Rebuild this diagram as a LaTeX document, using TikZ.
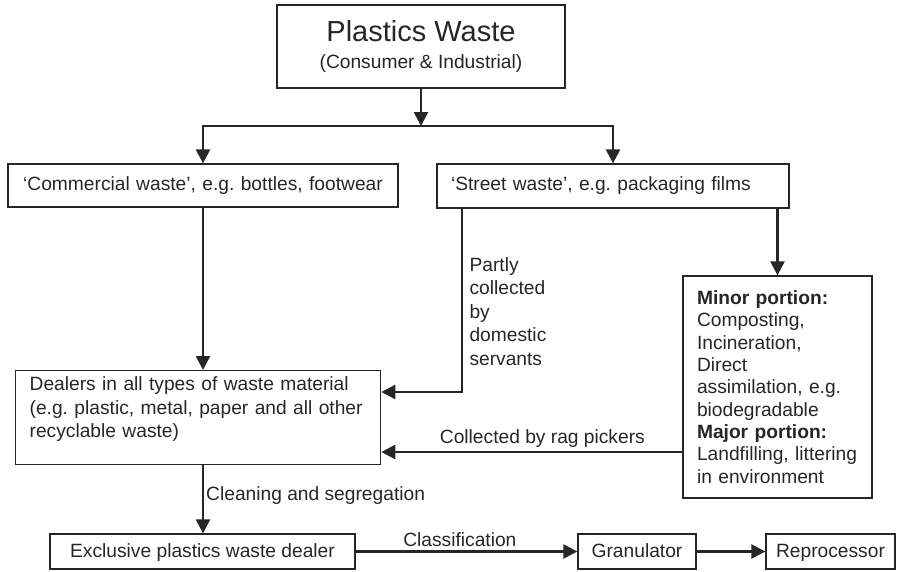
\documentclass[tikz,border=0pt]{standalone}
\usepackage{fontspec}
\setmainfont{Liberation Sans}
\usetikzlibrary{
  arrows.meta,
  positioning,
  calc
}

\begin{document}
\frenchspacing
\begin{tikzpicture}[
    x=1pt, y=-1pt,
    box/.style={draw=black!85, line width=1.3pt, inner xsep=14pt, inner ysep=0pt,
                font=\fontsize{19.2}{23.5}\selectfont, text=black!85},
    row/.style={box, inner xsep=8pt, minimum height=35pt, text height=14pt, text depth=3pt},
    lbl/.style={font=\fontsize{19.2}{23.5}\selectfont, text=black!85, align=left},
    ar/.style={-{Triangle[length=14pt,width=14pt]}, line width=2.4pt, draw=black!85}
  ]
    \useasboundingbox (0,0) rectangle (900,571);
    % sources
    \node[box, minimum width=288pt, minimum height=83pt, align=center] (src) at (421,46.5)
      {{\fontsize{29}{34}\selectfont Plastics Waste}\\[3pt] (Consumer \& Industrial)};
    \node[box, inner xsep=10pt, text width=370pt, align=center, minimum height=43pt] (com) at (203,185.5)
      {‘Commercial waste’, e.g. bottles, footwear};
    \node[box, text width=324pt, align=left, minimum height=44pt] (str) at (613,186)
      {‘Street waste’, e.g. packaging films};
    % dealers and disposal
    \node[box, anchor=north west, text width=337pt, align=left, inner ysep=6pt,
          text depth=68pt] (dlr) at (15,370)
      {Dealers in all types of waste material\\ (e.g. plastic, metal, paper and all other\\ recyclable waste)};
    \node[box, text width=161pt, align=left, minimum height=222pt,
          font=\fontsize{19.2}{22.3}\selectfont] (mnr) at (777.5,387)
      {\textbf{Minor portion:}\\ Composting,\\ Incineration,\\ Direct\\ assimilation, e.g.\\
       biodegradable\\ \textbf{Major portion:}\\ Landfilling, littering\\ in environment};
    % bottom row
    \node[row, minimum width=305pt] (exc) at (202.5,551.5) {Exclusive plastics waste dealer};
    \node[row, minimum width=118pt] (gra) at (637,551.5) {Granulator};
    \node[row, minimum width=129pt] (rep) at (830.5,551.5) {Reprocessor};
    \node[lbl, anchor=north west] (pcl) at (466,254)
      {Partly\\collected\\by\\domestic\\servants};

    \coordinate (split) at (421,126);
    \coordinate (pc) at (462,392);
    \coordinate (rp) at (683,452);
    \draw[ar] (src.south) -- (split);
    \draw[ar] (split) -| (com.north);
    \draw[ar] (split) -| (str.north);
    \draw[ar] (com.south) -- (com.south |- dlr.north);
    \draw[ar] (str.south -| pc) |- (dlr.east |- pc);
    \draw[ar] (str.south -| mnr.north) -- (mnr.north);
    \draw[ar] (mnr.west |- rp) -- node[lbl, above, pos=0.465] {Collected by rag pickers} (dlr.east |- rp);
    \draw[ar] (dlr.south -| com.south) -- node[lbl, right, pos=0.44, inner sep=2pt]
      {Cleaning and segregation} (exc.north -| com.south);
    \draw[ar] (exc) -- node[lbl, above, pos=0.47] {Classification} (gra);
    \draw[ar] (gra) -- (rep);
\end{tikzpicture}
\end{document}
